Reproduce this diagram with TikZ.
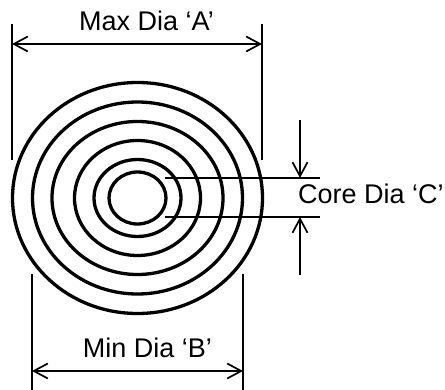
\documentclass[tikz,border=0pt]{standalone}
\usepackage{fontspec}
\setmainfont{Liberation Sans}
\usetikzlibrary{arrows.meta}
\tikzset{
  ring/.style={line width=3.3pt,draw=black,fill=none},
  dimline/.style={line width=1.7pt,draw=black},
  dimarrow/.style={dimline,-{Straight Barb[length=14pt,width=15pt,line width=1.7pt]}},
  dimboth/.style={dimline,{Straight Barb[length=14pt,width=15pt,line width=1.7pt]}-{Straight Barb[length=14pt,width=15pt,line width=1.7pt]}},
  lab/.style={font=\fontsize{27}{30}\selectfont,inner sep=0pt,text=black}
}
\begin{document}
\begin{tikzpicture}[x=1pt,y=-1pt]
\useasboundingbox (0,0) rectangle (445,390);
\coordinate (c) at (137.5,198);
\foreach \rx/\ry in {125/115.5,105/96,85.5/76.5,63/57.5,43.5/38.5,28.5/26}
  \draw[ring] (c) ellipse [x radius=\rx, y radius=\ry];
% Max
\coordinate (a1) at (12,24); \coordinate (a2) at (12,160);
\coordinate (a3) at (262,24); \coordinate (a4) at (262,160);
\coordinate (a5) at (12,44); \coordinate (a6) at (262,44);
\draw[dimline] (a1) -- (a2);
\draw[dimline] (a3) -- (a4);
\draw[dimboth] (a5) -- (a6);
\node[lab] (maxl) at (146.5,21) {Max Dia ‘A’};
% Min
\coordinate (b1) at (32,274); \coordinate (b2) at (32,390);
\coordinate (b3) at (243,274); \coordinate (b4) at (243,390);
\coordinate (b5) at (32,371); \coordinate (b6) at (243,371);
\draw[dimline] (b1) -- (b2);
\draw[dimline] (b3) -- (b4);
\draw[dimboth] (b5) -- (b6);
\node[lab] (minl) at (147.5,347.5) {Min Dia ‘B’};
% Core
\coordinate (c1) at (165,178); \coordinate (c2) at (320,178);
\coordinate (c3) at (165,217); \coordinate (c4) at (320,217);
\draw[dimline] (c1) -- (c2);
\draw[dimline] (c3) -- (c4);
\coordinate (d1) at (300,120); \coordinate (d2) at (300,178);
\coordinate (d3) at (300,275); \coordinate (d4) at (300,217);
\draw[dimarrow] (d1) -- (d2);
\draw[dimarrow] (d3) -- (d4);
\node[lab] (corel) at (371,193.5) {Core Dia ‘C’};
\end{tikzpicture}
\end{document}
